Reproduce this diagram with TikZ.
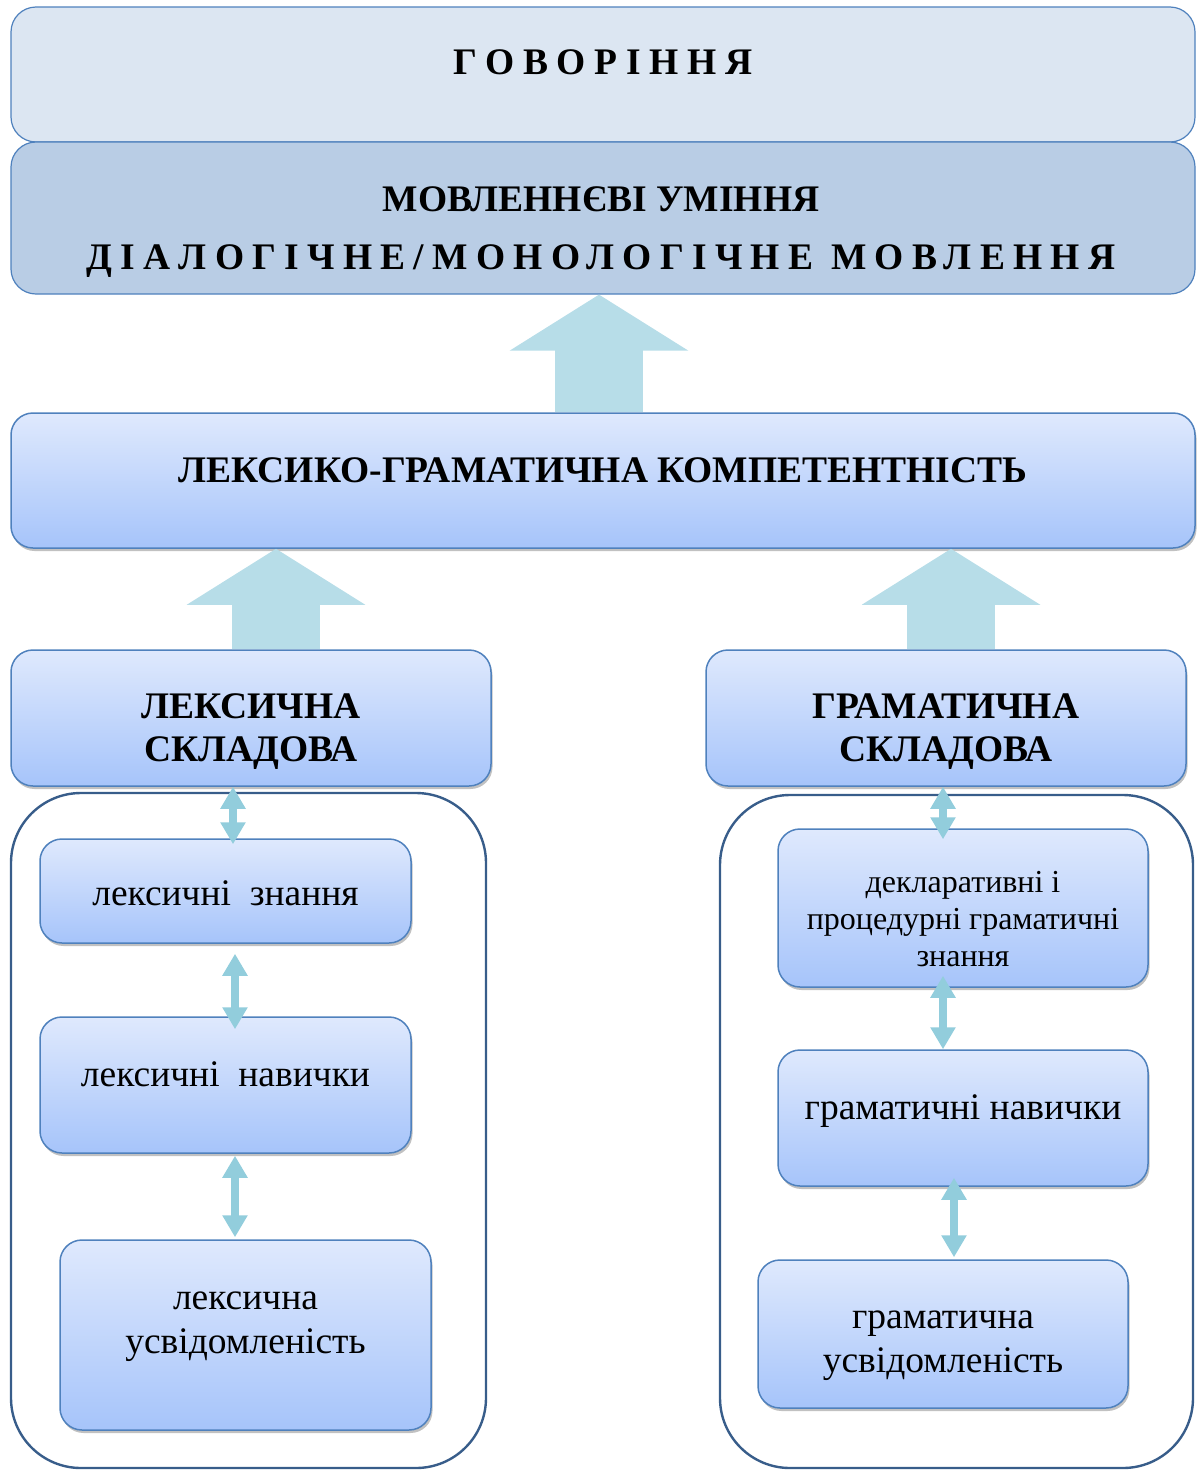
\documentclass[tikz,border=0pt]{standalone}
\usepackage{fontspec}
\setmainfont{Liberation Serif}
\usetikzlibrary{arrows.meta,shadows,calc}

\definecolor{edgeblue}{RGB}{79,129,189}
\definecolor{darkedge}{RGB}{56,93,138}
\definecolor{paleblue}{RGB}{220,230,242}
\definecolor{midblue}{RGB}{185,205,229}
\definecolor{gradtop}{RGB}{223,233,253}
\definecolor{gradbot}{RGB}{166,196,250}
\definecolor{blockcol}{RGB}{183,221,232}
\definecolor{linkcol}{RGB}{146,205,220}

\tikzset{
  flatbox/.style={draw=edgeblue, line width=1.2pt, rounded corners=25pt},
  gradbox/.style={draw=edgeblue, line width=1.5pt, rounded corners=22pt,
    top color=gradtop, bottom color=gradbot,
    drop shadow={shadow xshift=1.5pt, shadow yshift=-3pt, opacity=0.35, fill=black!70}},
  groupbox/.style={draw=darkedge, line width=2.4pt, rounded corners=70pt},
  blockarrow/.style={draw=blockcol, line width=88pt, -{Triangle[width=176pt,length=56pt]}},
  linkarrow/.style={draw=linkcol, line width=8pt,
    {Triangle[width=24pt,length=22pt]}-{Triangle[width=24pt,length=22pt]}},
  bigtext/.style={align=center, font=\fontsize{37.5}{44}\selectfont\bfseries},
  midtext/.style={align=center, font=\fontsize{37.5}{43}\selectfont\bfseries},
  plaintext/.style={align=center, font=\fontsize{37.5}{44}\selectfont},
  smalltext/.style={align=center, font=\fontsize{32}{37}\selectfont}
}

\begin{document}
\begin{tikzpicture}[x=1pt, y=-1pt]
  \useasboundingbox (0,0) rectangle (1197,1470);
  % top: speaking and speech skills
  \node [flatbox, fill=paleblue, minimum width=1184pt, minimum height=135pt] (talk) at (603,74.5) {};
  \node [bigtext] (talk-t) at ($(talk)+(0,-12)$) {\addfontfeature{LetterSpace=23}ГОВОРІННЯ};
  \node [flatbox, fill=midblue, minimum width=1184pt, minimum height=152pt] (skills) at (603,218) {};
  \node [bigtext] (skills-t) at ($(skills)+(-2,14)$)
    {МОВЛЕННЄВІ УМІННЯ\\[14pt] \addfontfeature{LetterSpace=22}ДІАЛОГІЧНЕ/МОНОЛОГІЧНЕ МОВЛЕННЯ};
  % competence
  \node [gradbox, minimum width=1184pt, minimum height=135pt] (comp) at (603,480.5) {};
  \node [bigtext] (comp-t) at ($(comp)+(0,-10)$) {ЛЕКСИКО-ГРАМАТИЧНА КОМПЕТЕНТНІСТЬ};
  \draw [blockarrow] ($(comp.north)+(-4,0)$) -- ($(skills.south)+(-4,0)$);
  % two components
  \node [gradbox, minimum width=480pt, minimum height=136pt] (lexsk) at (251,718) {};
  \node [midtext] (lexsk-t) at ($(lexsk)+(0,14)$) {ЛЕКСИЧНА\\СКЛАДОВА};
  \node [gradbox, minimum width=480pt, minimum height=136pt] (gramsk) at (946,718) {};
  \node [midtext] (gramsk-t) at ($(gramsk)+(0,14)$) {ГРАМАТИЧНА\\СКЛАДОВА};
  \draw [blockarrow] ($(lexsk.north)+(25,0)$) -- ($(lexsk.north |- comp.south)+(25,0)$);
  \draw [blockarrow] ($(gramsk.north)+(5,0)$) -- ($(gramsk.north |- comp.south)+(5,0)$);
  % groups
  \node [groupbox, minimum width=475pt, minimum height=675pt] (lexgroup) at (248.5,1130.5) {};
  \node [groupbox, minimum width=473pt, minimum height=673pt] (gramgroup) at (956.5,1131.5) {};
  % lexical side
  \node [gradbox, minimum width=371pt, minimum height=104pt] (lexzn) at (225.5,891) {};
  \node [plaintext] (lexzn-t) at ($(lexzn)+(0,2)$) {лексичні\ \ знання};
  \node [gradbox, minimum width=371pt, minimum height=136pt] (lexnav) at (225.5,1085) {};
  \node [plaintext] (lexnav-t) at ($(lexnav)+(0,-11)$) {лексичні\ \ навички};
  \node [gradbox, minimum width=371pt, minimum height=190pt] (lexus) at (245.5,1335) {};
  \node [plaintext] (lexus-t) at ($(lexus)+(0,-8)$) {лексична\\усвідомленість};
  % grammatical side
  \node [gradbox, minimum width=370pt, minimum height=158pt] (gramzn) at (963,908) {};
  \node [smalltext] (gramzn-t) at ($(gramzn)+(0,11)$) {декларативні і\\процедурні граматичні\\знання};
  \node [gradbox, minimum width=370pt, minimum height=136pt] (gramnav) at (963,1118) {};
  \node [plaintext] (gramnav-t) at ($(gramnav)+(0,-7)$) {граматичні навички};
  \node [gradbox, minimum width=370pt, minimum height=148pt] (gramus) at (943,1334) {};
  \node [plaintext] (gramus-t) at ($(gramus)+(0,12)$) {граматична\\усвідомленість};
  % links
  \draw [linkarrow] ($(lexzn.north |- lexsk.south)+(7.5,0)$) -- ($(lexzn.north)+(7.5,6)$);
  \draw [linkarrow] ($(lexzn.south)+(9.5,10)$) -- ($(lexnav.north)+(9.5,13)$);
  \draw [linkarrow] ($(lexnav.south)+(9.5,2)$) -- ($(lexnav.south |- lexus.north)+(9.5,-2)$);
  \draw [linkarrow] ($(gramzn.north |- gramsk.south)+(-20,0)$) -- ($(gramzn.north)+(-20,11)$);
  \draw [linkarrow] ($(gramzn.south)+(-20,-12)$) -- ($(gramnav.north)+(-20,0)$);
  \draw [linkarrow] ($(gramnav.south)+(-9,-9)$) -- ($(gramnav.south |- gramus.north)+(-9,-2)$);
\end{tikzpicture}
\end{document}
